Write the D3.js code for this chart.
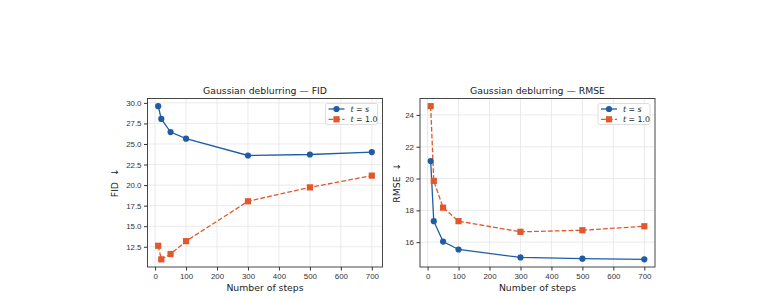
<!DOCTYPE html>
<meta charset="utf-8">
<style>
  body { margin: 0; background: #fff; }
  svg { font-family: "DejaVu Sans", sans-serif; }
  .tick text { font-size: 7.9px; fill: #333; }
  .tick line { stroke: #333; }
  .domain { display: none; }
</style>
<div id="chart"></div>
<script src="https://cdn.jsdelivr.net/npm/d3@7"></script>
<script>
  // data
  var steps = [10, 20, 50, 100, 300, 500, 700];
  var fidS = [29.6, 28.05, 26.45, 25.65, 23.6, 23.72, 24.02];
  var fid1 = [12.62, 10.97, 11.62, 13.18, 18.03, 19.72, 21.15];
  var rmseS = [21.1, 17.32, 16.04, 15.54, 15.04, 14.96, 14.92];
  var rmse1 = [24.55, 19.85, 18.17, 17.32, 16.65, 16.75, 17.0];
  var xTicks = [0, 100, 200, 300, 400, 500, 600, 700];
  var fidTicks = [12.5, 15.0, 17.5, 20.0, 22.5, 25.0, 27.5, 30.0];
  var rmseTicks = [16, 18, 20, 22, 24];

  var blue = "#1f5ca6", orange = "#e0582b";

  var svg = d3.select("#chart").append("svg")
    .attr("width", 769).attr("height", 299);

  makePanel({ left: 147.5, right: 382.5, top: 98.5, bottom: 267 },
    "Gaussian deblurring — FID", "FID\u00a0\u00a0↓", fidS, fid1, fidTicks, d3.format(".1f"), 115);
  makePanel({ left: 420, right: 655, top: 98.5, bottom: 267 },
    "Gaussian deblurring — RMSE", "RMSE\u00a0\u00a0↓", rmseS, rmse1, rmseTicks, d3.format("d"), 397);

  function pad(lo, hi) {
    var m = (hi - lo) * 0.05;
    return [lo - m, hi + m];
  }

  function makePanel(box, title, ylab, serS, ser1, yTicks, yFmt, ylabX) {
    var g = svg.append("g");
    var x = d3.scaleLinear().domain(pad(d3.min(steps), d3.max(steps))).range([box.left, box.right]);
    var all = serS.concat(ser1);
    var y = d3.scaleLinear().domain(pad(d3.min(all), d3.max(all))).range([box.bottom, box.top]);

    // grid
    g.append("g").selectAll("line").data(xTicks).enter().append("line")
      .attr("x1", d => x(d)).attr("x2", d => x(d))
      .attr("y1", box.top).attr("y2", box.bottom)
      .attr("stroke", "#e4e4e4").attr("stroke-width", 0.8);
    g.append("g").selectAll("line").data(yTicks).enter().append("line")
      .attr("y1", d => y(d)).attr("y2", d => y(d))
      .attr("x1", box.left).attr("x2", box.right)
      .attr("stroke", "#e4e4e4").attr("stroke-width", 0.8);

    // axes
    g.append("g").attr("transform", "translate(0," + box.bottom + ")")
      .call(d3.axisBottom(x).tickValues(xTicks).tickSize(3.5).tickPadding(2.5));
    g.append("g").attr("transform", "translate(" + box.left + ",0)")
      .call(d3.axisLeft(y).tickValues(yTicks).tickFormat(yFmt).tickSize(3.5).tickPadding(2.5));

    // lines
    var line = d3.line().x((d, i) => x(steps[i])).y(d => y(d));
    g.append("path").datum(serS).attr("d", line)
      .attr("fill", "none").attr("stroke", blue).attr("stroke-width", 1.3);
    g.append("path").datum(ser1).attr("d", line)
      .attr("fill", "none").attr("stroke", orange).attr("stroke-width", 1.3)
      .attr("stroke-dasharray", "4.8,2.1");

    g.append("g").selectAll("circle").data(serS).enter().append("circle")
      .attr("cx", (d, i) => x(steps[i])).attr("cy", d => y(d))
      .attr("r", 3.1).attr("fill", blue);
    g.append("g").selectAll("rect").data(ser1).enter().append("rect")
      .attr("x", (d, i) => x(steps[i]) - 3.1).attr("y", d => y(d) - 3.1)
      .attr("width", 6.2).attr("height", 6.2).attr("fill", orange);

    // frame
    g.append("rect").attr("x", box.left).attr("y", box.top)
      .attr("width", box.right - box.left).attr("height", box.bottom - box.top)
      .attr("fill", "none").attr("stroke", "#333").attr("stroke-width", 0.9);

    // title, labels
    g.append("text").attr("x", (box.left + box.right) / 2).attr("y", 94)
      .attr("text-anchor", "middle").attr("font-size", 9.3).attr("fill", "#222").text(title);
    g.append("text").attr("x", (box.left + box.right) / 2).attr("y", 290.5)
      .attr("text-anchor", "middle").attr("font-size", 9.3).attr("fill", "#222").text("Number of steps");
    g.append("text").attr("transform", "translate(" + ylabX + "," + ((box.top + box.bottom) / 2) + ") rotate(-90)")
      .attr("text-anchor", "middle").attr("dy", "0.35em")
      .attr("font-size", 9.3).attr("fill", "#222").text(ylab);

    // legend
    var lw = 52, lh = 21;
    var lx = box.right - 5 - lw, ly = box.top + 5;
    var lg = g.append("g");
    lg.append("rect").attr("x", lx).attr("y", ly).attr("width", lw).attr("height", lh)
      .attr("rx", 2).attr("fill", "#fff").attr("fill-opacity", 0.85)
      .attr("stroke", "#d6d6d6").attr("stroke-width", 0.8);
    var items = [
      { c: blue, dash: null, mark: "circle", rhs: "s", italicRhs: true },
      { c: orange, dash: "4.8,2.1", mark: "rect", rhs: "1.0", italicRhs: false }
    ];
    items.forEach(function (it, i) {
      var cy = ly + 5.5 + i * 10.3;
      lg.append("line").attr("x1", lx + 3).attr("x2", lx + 19).attr("y1", cy).attr("y2", cy)
        .attr("stroke", it.c).attr("stroke-width", 1.3)
        .attr("stroke-dasharray", it.dash);
      if (it.mark === "circle") {
        lg.append("circle").attr("cx", lx + 11).attr("cy", cy).attr("r", 3.1).attr("fill", it.c);
      } else {
        lg.append("rect").attr("x", lx + 7.9).attr("y", cy - 3.1).attr("width", 6.2).attr("height", 6.2).attr("fill", it.c);
      }
      var t = lg.append("text").attr("x", lx + 25).attr("y", cy).attr("dy", "0.35em")
        .attr("font-size", 7.8).attr("fill", "#222");
      t.append("tspan").attr("font-style", "italic").text("t");
      t.append("tspan").text(" = ");
      t.append("tspan").attr("font-style", it.italicRhs ? "italic" : "normal").text(it.rhs);
    });
  }
</script>
